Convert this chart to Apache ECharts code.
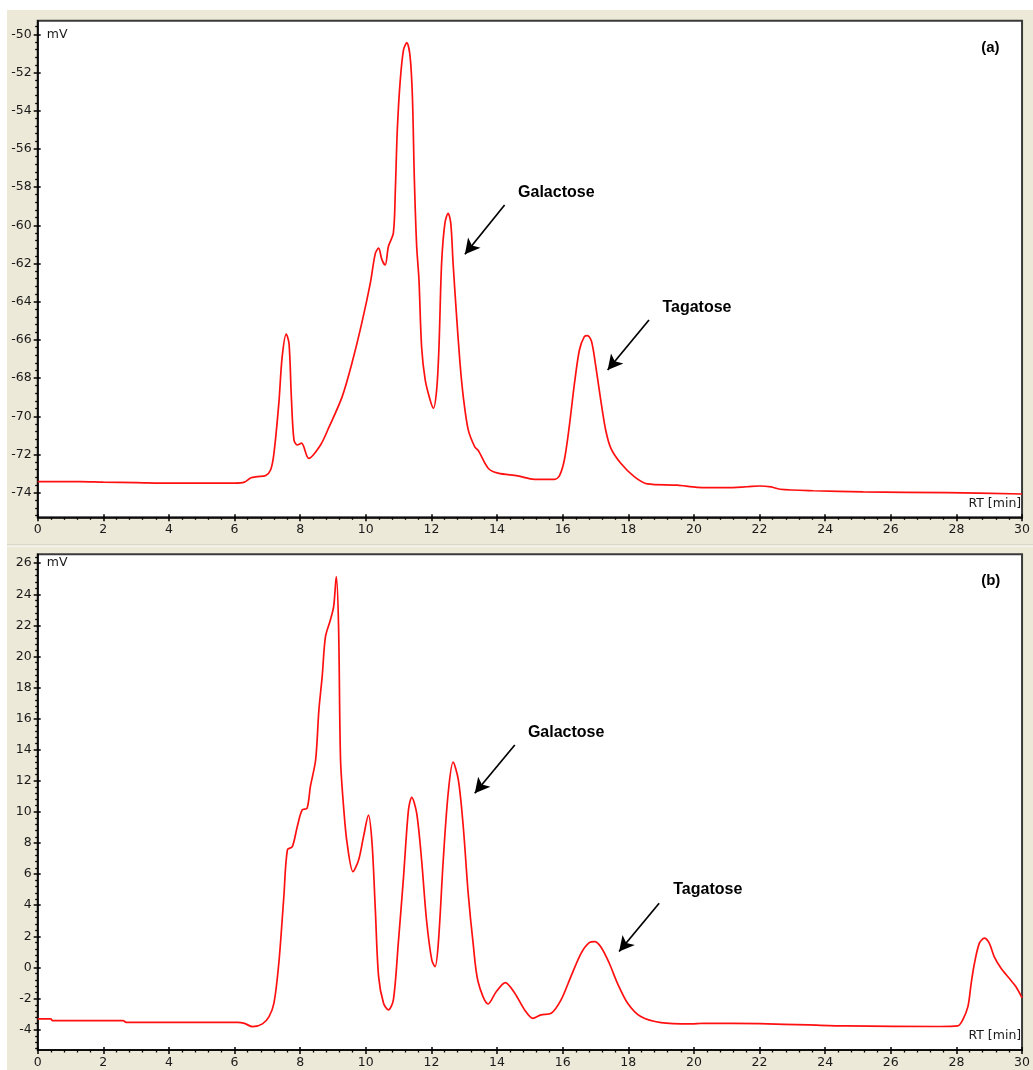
<!DOCTYPE html>
<html><head><meta charset="utf-8">
<script src="https://cdn.jsdelivr.net/npm/echarts@6/dist/echarts.min.js"></script>
<style>
html,body{margin:0;padding:0;background:#fff;}
#bg{position:absolute;left:7px;top:10px;width:1026px;height:1060px;background:#ECE9D8;}
#chart{position:absolute;left:0;top:0;width:1033px;height:1070px;}
</style></head><body>
<div id="bg"></div><div id="chart"></div>
<script>
// ---- Panel (a) trace: retention time (min) and signal (mV)
const rtA = [0,1.3,2.0,3.0,4.0,5.0,6.0,6.3,6.5,6.7,6.95,7.1,7.2,7.35,7.45,7.575,7.66,7.73,7.81,7.91,8.04,8.26,8.62,8.87,9.28,9.58,9.88,10.14,10.29,10.39,10.49,10.59,10.69,10.84,10.9,10.96,11.05,11.15,11.25,11.35,11.42,11.48,11.55,11.62,11.7,11.81,11.96,12.06,12.16,12.23,12.31,12.41,12.51,12.59,12.66,12.76,12.87,12.97,13.12,13.32,13.43,13.73,14.03,14.63,15.14,15.75,15.9,16.05,16.2,16.36,16.51,16.66,16.76,16.88,17.01,17.16,17.31,17.47,17.77,18.18,18.58,19.49,20.1,21.0,21.62,22.0,22.35,22.62,23.64,25.16,27.7,30.0];
const mvA = [-73.42,-73.42,-73.45,-73.47,-73.5,-73.5,-73.5,-73.45,-73.22,-73.16,-73.1,-72.8,-71.94,-69.3,-66.9,-65.7,-66.2,-68.97,-71.24,-71.5,-71.41,-72.2,-71.5,-70.6,-68.97,-67.2,-65.1,-63.0,-61.47,-61.2,-61.8,-62.08,-61.1,-60.4,-58.15,-55.0,-52.4,-50.8,-50.44,-51.17,-53.27,-57.63,-61.1,-62.86,-66.36,-68.1,-69.15,-69.58,-68.6,-66.36,-61.99,-59.9,-59.37,-59.9,-61.99,-64.6,-67.2,-68.97,-70.7,-71.6,-71.8,-72.72,-72.98,-73.12,-73.3,-73.3,-73.12,-72.29,-70.54,-68.27,-66.53,-65.83,-65.78,-66.09,-67.4,-69.15,-70.72,-71.68,-72.46,-73.16,-73.54,-73.61,-73.72,-73.74,-73.69,-73.65,-73.7,-73.82,-73.9,-73.96,-74.0,-74.07];

// ---- Panel (b) trace
const rtB = [0,0.4,0.45,2.6,2.7,6.1,6.3,6.55,6.85,7.05,7.2,7.35,7.5,7.61,7.76,7.91,8.06,8.21,8.31,8.47,8.57,8.67,8.77,8.92,9.02,9.1,9.17,9.23,9.33,9.43,9.61,9.78,9.93,10.08,10.19,10.29,10.39,10.54,10.69,10.84,10.99,11.15,11.3,11.4,11.55,11.7,11.85,12.01,12.11,12.21,12.36,12.51,12.66,12.82,12.97,13.12,13.27,13.42,13.73,13.98,14.25,14.54,14.84,15.09,15.34,15.65,15.95,16.25,16.56,16.81,16.97,17.17,17.42,17.67,17.98,18.38,19.0,19.9,20.3,22.0,23.5,24.65,27.49,28.04,28.19,28.35,28.45,28.55,28.7,28.85,29.0,29.15,29.36,29.61,29.81,30.0];
const mvB = [-3.31,-3.31,-3.42,-3.42,-3.53,-3.53,-3.6,-3.81,-3.63,-3.16,-2.3,0.3,4.5,7.56,7.77,9.05,10.13,10.24,11.63,13.34,16.56,18.7,21.27,22.35,23.2,25.13,21.9,13.34,10.13,7.99,6.16,6.91,8.41,9.8,7.99,3.7,-0.59,-2.3,-2.73,-2.09,1.56,5.84,10.13,10.94,9.92,6.91,3.05,0.48,0.05,1.56,6.91,11.2,13.2,12.06,9.05,4.77,1.56,-0.9,-2.35,-1.55,-0.98,-1.66,-2.73,-3.27,-3.05,-2.95,-2.09,-0.59,0.91,1.6,1.66,1.3,0.27,-1.02,-2.3,-3.16,-3.55,-3.63,-3.59,-3.62,-3.7,-3.76,-3.8,-3.76,-3.38,-2.52,-1.02,0.27,1.56,1.88,1.56,0.7,-0.05,-0.7,-1.23,-1.95];

// ---- Axis ticks
const xTicks = [0,2,4,6,8,10,12,14,16,18,20,22,24,26,28,30];
const yTicksA = [-74,-72,-70,-68,-66,-64,-62,-60,-58,-56,-54,-52,-50];
const yTicksB = [-4,-2,0,2,4,6,8,10,12,14,16,18,20,22,24,26];
const xRange = [0, 30];
const yRangeA = [-75.29, -49.29];
const yRangeB = [-5.31, 26.57];

// ---- Annotations (data coordinates)
const annotations = [
  {panel:0, text:'Galactose', at:[14.64,-58.28], from:[14.23,-58.94], to:[13.02,-61.52]},
  {panel:0, text:'Tagatose',  at:[19.04,-64.29], from:[18.63,-64.96], to:[17.37,-67.58]},
  {panel:1, text:'Galactose', at:[14.94,15.08],  from:[14.54,14.31],  to:[13.32,11.2]},
  {panel:1, text:'Tagatose',  at:[19.37,4.98],   from:[18.94,4.13],   to:[17.72,1.02]}
];
const panelTags = ['(a)', '(b)'];

const FONT = 'DejaVu Sans';
const FS = 12.5;
const TXT = '#1a1a1a';
const grids = [
  {left:37.7, top:20.7, width:987.5, height:496.6},
  {left:37.7, top:554.3, width:987.5, height:495.7}
];
const yRanges = [yRangeA, yRangeB];
const yTicks = [yTicksA, yTicksB];

function minors(range, majors){
  const out = [];
  const start = Math.ceil(range[0]/0.4);
  const end = Math.floor(range[1]/0.4);
  for(let k=start;k<=end;k++){
    const v = Math.round(k*0.4*100)/100;
    if(majors.indexOf(v) < 0) out.push(v);
  }
  return out;
}

const xAxes = [], yAxes = [], series = [];
grids.forEach((g, gi) => {
  xAxes.push({type:'value', gridIndex:gi, position:'bottom', min:xRange[0], max:xRange[1], interval:2,
    axisLine:{show:true, onZero:false, lineStyle:{color:'#000', width:1.5}},
    axisTick:{show:true, length:4, lineStyle:{color:'#000', width:1.5}},
    minorTick:{show:true, splitNumber:5, length:2.5, lineStyle:{color:'#000', width:1.3}},
    axisLabel:{show:true, margin:6, color:TXT, fontFamily:FONT, fontSize:FS, customValues:xTicks},
    splitLine:{show:false}, minorSplitLine:{show:false}});
  xAxes.push({type:'value', gridIndex:gi, position:'bottom', min:xRange[0], max:xRange[1], interval:2,
    axisLine:{show:false, onZero:false}, axisLabel:{show:false},
    axisTick:{show:true, inside:true, length:3, lineStyle:{color:'#000', width:1.5}},
    splitLine:{show:false}});
  const r = yRanges[gi], t = yTicks[gi];
  yAxes.push({type:'value', gridIndex:gi, position:'left', min:r[0], max:r[1],
    axisLine:{show:true, onZero:false, lineStyle:{color:'#000', width:1.5}},
    axisTick:{show:true, length:4, customValues:t, lineStyle:{color:'#000', width:1.5}},
    axisLabel:{show:true, margin:6, customValues:t, color:TXT, fontFamily:FONT, fontSize:FS},
    splitLine:{show:false}});
  yAxes.push({type:'value', gridIndex:gi, position:'left', min:r[0], max:r[1],
    axisLine:{show:false, onZero:false}, axisLabel:{show:false},
    axisTick:{show:true, inside:true, length:3, customValues:t, lineStyle:{color:'#000', width:1.5}},
    splitLine:{show:false}});
  yAxes.push({type:'value', gridIndex:gi, position:'left', min:r[0], max:r[1],
    axisLine:{show:false, onZero:false}, axisLabel:{show:false},
    axisTick:{show:true, length:2.5, customValues:minors(r, t), lineStyle:{color:'#000', width:1.3}},
    splitLine:{show:false}});

  const rt = gi === 0 ? rtA : rtB;
  const mv = gi === 0 ? mvA : mvB;
  const arrows = annotations.filter(a => a.panel === gi).map(a => [{coord:a.from},{coord:a.to}]);
  series.push({type:'line', xAxisIndex:gi*2, yAxisIndex:gi*3,
    data: rt.map((x,i)=>[x, mv[i]]),
    showSymbol:false, smooth:0.3,
    lineStyle:{color:'#ff1010', width:1.7}, clip:true,
    markLine:{silent:true, symbol:['none','arrow'], symbolSize:[12,15],
      lineStyle:{color:'#000', width:1.7, type:'solid'}, label:{show:false},
      emphasis:{disabled:true}, data:arrows}
  });
});

const chart = echarts.init(document.getElementById('chart'), null, {renderer:'canvas'});
chart.setOption({
  animation:false,
  backgroundColor:'transparent',
  grid: grids.map(g => Object.assign({show:true, backgroundColor:'#fff', borderColor:'#3a3a3a', borderWidth:2}, g)),
  xAxis:xAxes, yAxis:yAxes, series:series
});

const gfx = [
  {type:'line', shape:{x1:7, y1:545, x2:1033, y2:545}, style:{stroke:'#c9c6b6', lineWidth:1}, silent:true},
  {type:'line', shape:{x1:7, y1:546, x2:1033, y2:546}, style:{stroke:'#ffffff', lineWidth:1}, silent:true}
];
grids.forEach((g, gi) => {
  const top = yTicks[gi][yTicks[gi].length-1];
  const p = chart.convertToPixel({seriesIndex:gi}, [0, top]);
  gfx.push({type:'text', x:g.left+9, y:p[1], style:{text:'mV', font:FS+'px "'+FONT+'"', fill:TXT, textVerticalAlign:'middle', textAlign:'left'}, silent:true});
  gfx.push({type:'text', x:g.left+g.width-4, y:g.top+g.height-14, style:{text:'RT [min]', font:FS+'px "'+FONT+'"', fill:TXT, textVerticalAlign:'middle', textAlign:'right'}, silent:true});
  gfx.push({type:'text', x:g.left+g.width-44, y:g.top+27, style:{text:panelTags[gi], font:'bold 15px "Liberation Sans"', fill:'#000', textVerticalAlign:'middle', textAlign:'left'}, silent:true});
});
annotations.forEach(a => {
  const p = chart.convertToPixel({seriesIndex:a.panel}, a.at);
  gfx.push({type:'text', x:p[0], y:p[1], style:{text:a.text, font:'bold 16px "Liberation Sans"', fill:'#000', textVerticalAlign:'middle', textAlign:'left'}, silent:true});
});
chart.setOption({graphic:gfx});
</script>
</body></html>
